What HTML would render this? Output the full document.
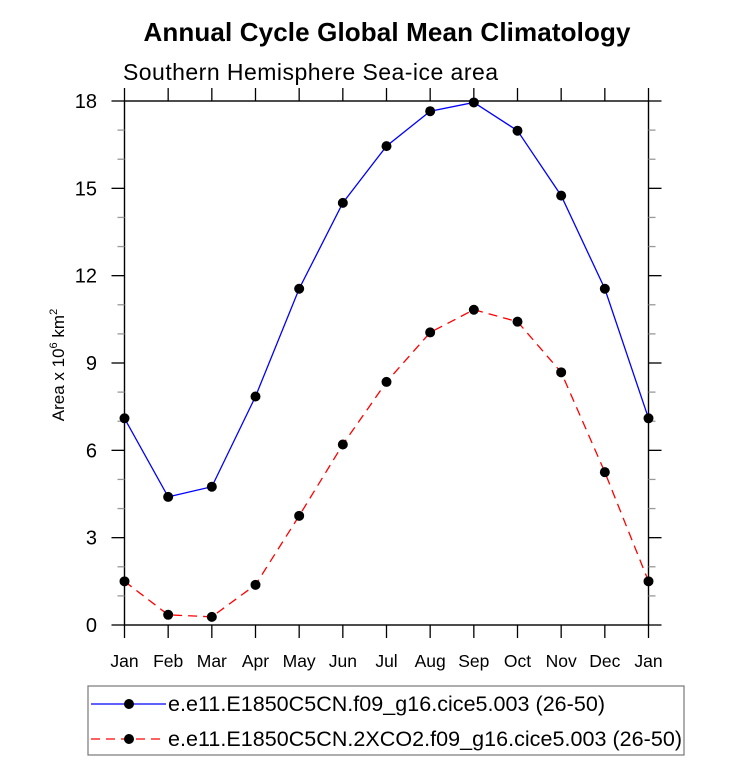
<!DOCTYPE html>
<html><head><meta charset="utf-8"><style>
body{margin:0;background:#fff}
svg text{font-family:"Liberation Sans",Arial,sans-serif}
</style></head><body>
<svg width="733" height="761" viewBox="0 0 733 761" xmlns="http://www.w3.org/2000/svg" id="chart">
<text x="387" y="41" font-size="26" font-weight="bold" text-anchor="middle" textLength="487">Annual Cycle Global Mean Climatology</text>
<text x="123" y="80" font-size="23" textLength="375">Southern Hemisphere Sea-ice area</text>
<text transform="translate(64,365) rotate(-90)" font-size="17" text-anchor="middle">Area x 10<tspan dy="-7" font-size="11">6</tspan><tspan dy="7"> km</tspan><tspan dy="-7" font-size="11">2</tspan></text>
<g id="axes"></g>
<g id="series"></g>
<g>
<rect x="88" y="686" width="596" height="69" fill="none" stroke="#777" stroke-width="1.2"/>
<g>
<line x1="91" y1="704" x2="166" y2="704" stroke="#0000ff" stroke-width="1.3"/>
<circle cx="129" cy="704" r="5" fill="#000"/>
<text x="168" y="711" font-size="21.5" textLength="437">e.e11.E1850C5CN.f09_g16.cice5.003 (26-50)</text>
</g>
<g>
<line x1="91" y1="739" x2="166" y2="739" stroke="#ff0000" stroke-width="1.3" stroke-dasharray="9,6"/>
<circle cx="129" cy="739" r="5" fill="#000"/>
<text x="168" y="746" font-size="21.5" textLength="514">e.e11.E1850C5CN.2XCO2.f09_g16.cice5.003 (26-50)</text>
</g>
</g>
</svg>
<script>
const months=["Jan","Feb","Mar","Apr","May","Jun","Jul","Aug","Sep","Oct","Nov","Dec","Jan"];
const controlValues=[7.1,4.4,4.75,7.85,11.55,14.5,16.45,17.65,17.95,16.98,14.75,11.55,7.1];
const co2Values=[1.5,0.35,0.28,1.38,3.75,6.2,8.35,10.05,10.83,10.42,8.68,5.25,1.5];
const yTicks=[0,3,6,9,12,15,18];
const NS="http://www.w3.org/2000/svg";
const X0=124.5,X1=648.5,Y0=625,Y1=101,YMAX=18;
function xs(i){return X0+(X1-X0)*i/(months.length-1);}
function ys(v){return Y0-(Y0-Y1)*v/YMAX;}
function mk(tag,attrs,parent){const e=document.createElementNS(NS,tag);for(const k in attrs)e.setAttribute(k,attrs[k]);parent.appendChild(e);return e;}
const axes=document.getElementById('axes');


const frame=mk('rect',{x:X0,y:Y1,width:X1-X0,height:Y0-Y1,fill:'none',stroke:'#000','stroke-width':1.4},axes);


months.forEach((m,i)=>{
  const x=xs(i);
  const t=mk('line',{x1:x,y1:Y0,x2:x,y2:Y0+13,stroke:'#000','stroke-width':1.3},axes);
  
  
  mk('line',{x1:x,y1:Y1,x2:x,y2:Y1-13,stroke:'#000','stroke-width':1.3},axes);
  const l=mk('text',{x:x,y:Y0+42,'font-size':17.5,'text-anchor':'middle'},axes);
  l.textContent=m;
  
  
});
for(let v=0;v<=YMAX;v++){
  const y=ys(v);const major=v%3===0;const len=major?13:7;
  mk('line',{x1:X0-len,y1:y,x2:X0,y2:y,stroke:major?'#000':'#999','stroke-width':1.3},axes);
  mk('line',{x1:X1,y1:y,x2:X1+len,y2:y,stroke:major?'#000':'#999','stroke-width':1.3},axes);
}
yTicks.forEach(v=>{
  const l=mk('text',{x:97,y:ys(v)+7,'font-size':20,'text-anchor':'end'},axes);
  l.textContent=v;
  
  
});
const series=document.getElementById('series');


function draw(vals,color,dash,name){
  const p=mk('polyline',{points:vals.map((v,i)=>xs(i)+','+ys(v)).join(' '),fill:'none',stroke:color,'stroke-width':1.3},series);
  if(dash)p.setAttribute('stroke-dasharray',dash);
  
  
  vals.forEach((v,i)=>{
    const c=mk('circle',{cx:xs(i),cy:ys(v),r:5,fill:'#000'},series);
    
    
  });
}
draw(controlValues,'#0000ff',null,'control');
draw(co2Values,'#ff0000','9,6','co2');
</script>
</body></html>
